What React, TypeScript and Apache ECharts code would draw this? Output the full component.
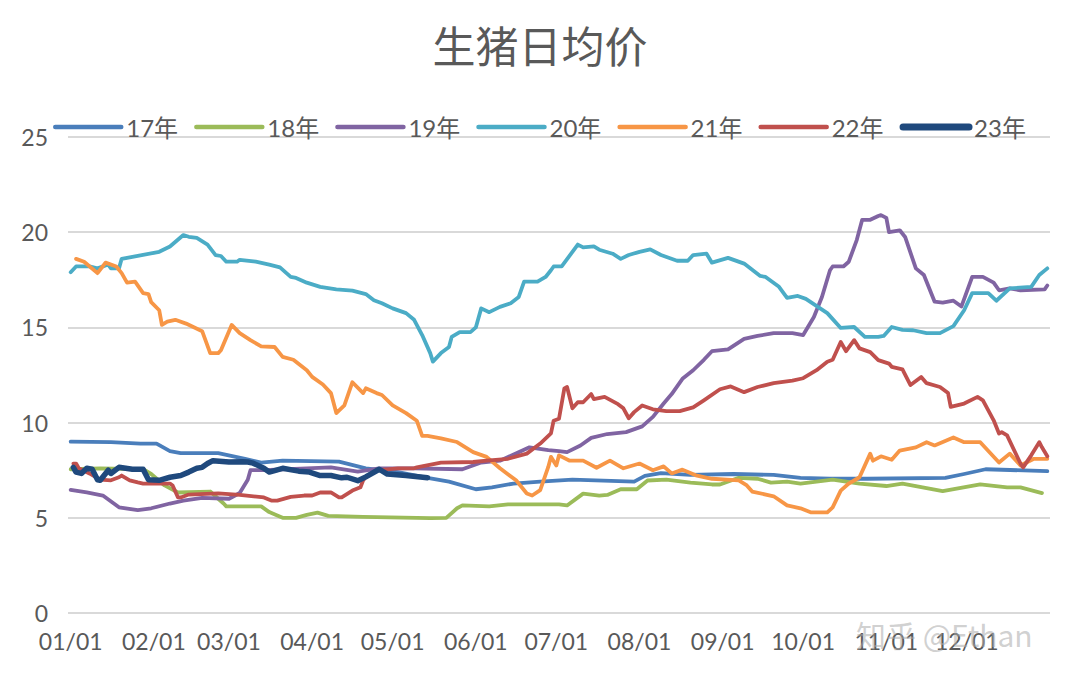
import React, { useEffect, useRef } from "react";
import * as echarts from "echarts";

const seriesNames = ["17年", "18年", "19年", "20年", "21年", "22年", "23年"];
const seriesColors = ["#4A7EBB", "#9BBB59", "#8064A2", "#4BACC6", "#F79646", "#C0504D", "#1F497D"];

const monthStartDays = [1, 32, 60, 91, 121, 152, 182, 213, 244, 274, 305, 335];
const monthLabels = ["01/01", "02/01", "03/01", "04/01", "05/01", "06/01", "07/01", "08/01", "09/01", "10/01", "11/01", "12/01"];
const yTicks = [0, 5, 10, 15, 20, 25];

// [day of year, price]
const s17 = [[1,9.0],[16,8.97],[27,8.9],[33,8.9],[38,8.5],[42,8.4],[56,8.4],[66,8.1],[72,7.9],[80,8.0],[101,7.95],[111,7.6],[123,7.4],[134,7.1],[142,6.9],[152,6.5],[158,6.6],[166,6.8],[176,6.9],[188,7.0],[211,6.9],[215,7.2],[221,7.35],[232,7.25],[248,7.3],[263,7.25],[273,7.1],[284,7.05],[298,7.05],[327,7.1],[334,7.3],[342,7.55],[365,7.45]];
const s18 = [[1,7.55],[12,7.6],[28,7.55],[31,7.3],[36,6.7],[41,6.33],[53,6.38],[56,6.0],[58,5.75],[59,5.6],[72,5.6],[75,5.3],[78,5.12],[80,5.0],[85,5.0],[89,5.15],[93,5.27],[97,5.1],[110,5.05],[135,4.98],[141,5.0],[145,5.5],[147,5.65],[157,5.6],[164,5.7],[183,5.7],[186,5.65],[192,6.27],[198,6.17],[201,6.2],[206,6.5],[212,6.5],[216,6.96],[223,7.0],[232,6.85],[240,6.75],[243,6.75],[250,7.1],[257,7.05],[262,6.85],[268,6.9],[273,6.8],[285,7.0],[295,6.8],[305,6.67],[311,6.8],[326,6.4],[340,6.75],[350,6.6],[355,6.6],[363,6.3]];
const s19 = [[1,6.47],[7,6.33],[13,6.17],[19,5.55],[26,5.4],[31,5.5],[38,5.75],[43,5.9],[50,6.05],[60,6.0],[64,6.3],[67,7.0],[68,7.5],[73,7.5],[98,7.65],[108,7.43],[116,7.6],[129,7.6],[147,7.55],[154,7.9],[161,8.0],[172,8.7],[179,8.55],[183,8.5],[186,8.45],[191,8.8],[195,9.2],[201,9.4],[208,9.5],[214,9.8],[218,10.3],[222,11.0],[225,11.5],[229,12.3],[233,12.75],[237,13.3],[240,13.75],[246,13.85],[252,14.4],[257,14.55],[263,14.7],[270,14.7],[274,14.6],[278,15.55],[281,16.6],[284,18.0],[285,18.2],[289,18.2],[291,18.45],[294,19.6],[296,20.65],[299,20.65],[302,20.85],[303,20.9],[305,20.75],[306,20.0],[310,20.1],[312,19.75],[316,18.1],[319,17.75],[323,16.35],[326,16.3],[330,16.4],[333,16.1],[337,17.65],[341,17.65],[345,17.35],[347,16.95],[351,17.05],[355,16.95],[364,17.0],[365,17.2]];
const s20 = [[1,17.9],[3,18.2],[8,18.2],[11,18.1],[15,18.3],[16,18.1],[19,18.1],[20,18.6],[24,18.7],[34,18.97],[38,19.25],[43,19.85],[45,19.76],[48,19.7],[52,19.35],[55,18.8],[57,18.75],[59,18.45],[63,18.45],[64,18.55],[70,18.45],[75,18.3],[79,18.15],[83,17.65],[85,17.6],[89,17.35],[94,17.13],[100,17.0],[106,16.93],[111,16.75],[114,16.43],[117,16.27],[121,16.0],[126,15.75],[129,15.4],[132,14.6],[135,13.65],[136,13.2],[139,13.65],[142,13.97],[143,14.5],[146,14.75],[150,14.75],[152,15.0],[154,16.0],[157,15.8],[161,16.08],[165,16.27],[168,16.6],[170,17.4],[175,17.4],[178,17.65],[180,18.0],[181,18.2],[184,18.2],[190,19.35],[192,19.2],[196,19.25],[198,19.08],[203,18.87],[206,18.6],[209,18.8],[213,18.97],[217,19.1],[221,18.8],[227,18.5],[231,18.5],[233,18.8],[238,18.87],[240,18.4],[246,18.65],[252,18.35],[258,17.7],[260,17.65],[265,17.13],[268,16.55],[272,16.65],[275,16.5],[283,15.75],[288,14.97],[293,15.02],[297,14.5],[302,14.5],[304,14.55],[307,15.02],[311,14.87],[315,14.85],[320,14.7],[325,14.7],[330,15.07],[334,15.9],[337,16.8],[343,16.8],[346,16.4],[351,17.05],[359,17.13],[362,17.75],[365,18.1]];
const s21 = [[3,18.6],[6,18.45],[11,17.85],[14,18.4],[18,18.2],[20,17.85],[22,17.35],[25,17.4],[28,16.8],[30,16.75],[31,16.33],[34,15.9],[35,15.13],[37,15.3],[40,15.4],[44,15.2],[50,14.8],[53,13.65],[56,13.65],[57,13.8],[61,15.13],[64,14.7],[68,14.33],[72,14.0],[77,13.97],[80,13.45],[84,13.3],[89,12.75],[91,12.4],[95,12.0],[98,11.55],[100,10.5],[103,10.9],[106,12.12],[110,11.55],[111,11.8],[115,11.55],[117,11.45],[121,10.9],[126,10.5],[130,10.1],[132,9.3],[134,9.3],[139,9.17],[145,8.98],[151,8.45],[156,8.2],[161,7.6],[167,6.97],[171,6.28],[173,6.17],[176,6.45],[179,7.67],[180,8.2],[182,7.75],[183,8.28],[187,8.0],[192,8.0],[197,7.63],[202,8.0],[207,7.6],[213,7.85],[218,7.5],[222,7.7],[225,7.33],[229,7.53],[234,7.23],[240,7.05],[250,6.97],[253,6.7],[255,6.38],[263,6.13],[268,5.65],[273,5.5],[277,5.28],[283,5.28],[285,5.55],[288,6.43],[291,6.8],[295,7.13],[299,8.37],[300,8.0],[303,8.23],[307,8.05],[310,8.53],[316,8.7],[320,8.97],[323,8.8],[330,9.22],[334,8.97],[340,8.97],[347,7.9],[351,8.37],[355,7.75],[360,8.1],[365,8.1]];
const s22 = [[2,7.85],[3,7.85],[4,7.6],[8,7.33],[12,7.0],[16,6.97],[19,7.13],[20,7.22],[23,6.97],[26,6.86],[28,6.8],[38,6.8],[39,6.7],[41,6.07],[42,6.07],[45,6.22],[56,6.28],[64,6.2],[73,6.07],[76,5.9],[78,5.9],[83,6.1],[88,6.17],[91,6.17],[94,6.33],[98,6.33],[101,6.07],[102,6.07],[106,6.43],[109,6.6],[110,6.97],[111,7.13],[115,7.5],[116,7.5],[123,7.6],[129,7.6],[130,7.65],[139,7.9],[151,7.93],[156,8.0],[164,8.1],[171,8.37],[176,8.9],[180,9.43],[181,10.1],[183,10.2],[185,11.8],[186,11.87],[188,10.75],[190,11.07],[192,11.07],[195,11.5],[196,11.23],[200,11.35],[205,10.97],[207,10.75],[209,10.23],[211,10.55],[214,10.9],[218,10.7],[223,10.6],[228,10.6],[233,10.8],[237,11.17],[243,11.75],[247,11.9],[252,11.6],[257,11.87],[263,12.07],[270,12.2],[274,12.33],[279,12.75],[283,13.2],[285,13.3],[288,14.23],[290,13.75],[293,14.33],[295,13.9],[299,13.7],[302,13.28],[306,13.1],[307,12.93],[311,12.8],[314,11.97],[318,12.4],[320,12.07],[325,11.87],[328,11.55],[329,10.83],[334,11.0],[339,11.35],[341,11.17],[345,10.12],[347,9.43],[348,9.5],[350,9.33],[355,7.85],[356,7.65],[359,8.28],[362,8.97],[363,8.7],[365,8.23]];
const s23 = [[2,7.65],[3,7.4],[5,7.33],[7,7.6],[9,7.55],[11,7.0],[12,6.97],[15,7.5],[16,7.33],[19,7.65],[24,7.55],[28,7.55],[30,7.0],[34,6.97],[38,7.13],[42,7.22],[45,7.4],[48,7.6],[50,7.65],[52,7.85],[54,8.0],[60,7.93],[65,7.95],[67,7.93],[69,7.87],[73,7.6],[75,7.4],[80,7.6],[86,7.45],[90,7.4],[94,7.22],[98,7.22],[102,7.1],[104,7.13],[108,6.95],[111,7.15],[116,7.55],[119,7.3],[126,7.22],[134,7.1]];

const allSeries = [s17, s18, s19, s20, s21, s22, s23];
const lineWidths = [3.8, 3.8, 3.8, 3.8, 3.8, 3.8, 5.5];
const legendWidths = [4.5, 4.5, 4.5, 4.5, 4.5, 4.5, 7];

const FONT = "Lato, 'Noto Sans CJK SC', sans-serif";

export default function App() {
  const ref = useRef<HTMLDivElement>(null);
  useEffect(() => {
    if (!ref.current) return;
    const chart = echarts.init(ref.current, undefined, { renderer: "svg" });
    chart.setOption({
      animation: false,
      backgroundColor: "#ffffff",
      title: {
        text: "生猪日均价",
        left: "center",
        top: 17,
        textStyle: { fontFamily: "'Noto Sans CJK SC', sans-serif", fontSize: 43, fontWeight: "normal", color: "#595959" },
      },
      legend: {
        data: seriesNames.map((n, i) => ({
          name: n,
          lineStyle: { width: legendWidths[i], color: seriesColors[i], cap: "round" },
        })),
        left: 48,
        top: 110,
        itemWidth: 66,
        itemHeight: 2,
        itemGap: 16,
        textStyle: { fontFamily: FONT, fontSize: 24, color: "#595959" },
      },
      grid: { left: 68, right: 30, top: 137, bottom: 71 },
      xAxis: {
        type: "value",
        min: 0,
        max: 366,
        axisLine: { show: false },
        axisTick: { show: false },
        splitLine: { show: false },
        axisLabel: {
          customValues: monthStartDays,
          formatter: (v: number) => monthLabels[monthStartDays.indexOf(v)] ?? "",
          margin: 16,
          fontFamily: FONT,
          fontSize: 23,
          color: "#595959",
        },
      },
      yAxis: {
        type: "value",
        min: yTicks[0],
        max: yTicks[yTicks.length - 1],
        interval: 5,
        axisLine: { show: false },
        axisTick: { show: false },
        splitLine: { lineStyle: { color: "#d9d9d9", width: 2 } },
        axisLabel: { margin: 20, fontFamily: FONT, fontSize: 23, color: "#595959" },
      },
      series: allSeries.map((d, i) => ({
        name: seriesNames[i],
        type: "line",
        data: d,
        symbol: "none",
        color: seriesColors[i],
        lineStyle: { width: lineWidths[i], color: seriesColors[i], cap: "round", join: "round" },
        z: 2 + i,
      })),
      graphic: [
        {
          type: "text",
          left: 856,
          top: 619,
          z: 100,
          style: {
            text: "知乎 @Ethan",
            font: "30px 'Noto Sans CJK SC', sans-serif",
            fill: "rgba(170,170,170,0.55)",
          },
        },
      ],
    });
    return () => chart.dispose();
  }, []);
  return (
    <div style={{ position: "absolute", left: 0, top: 0 }}>
      <div ref={ref} style={{ width: 1080, height: 684 }} />
    </div>
  );
}
